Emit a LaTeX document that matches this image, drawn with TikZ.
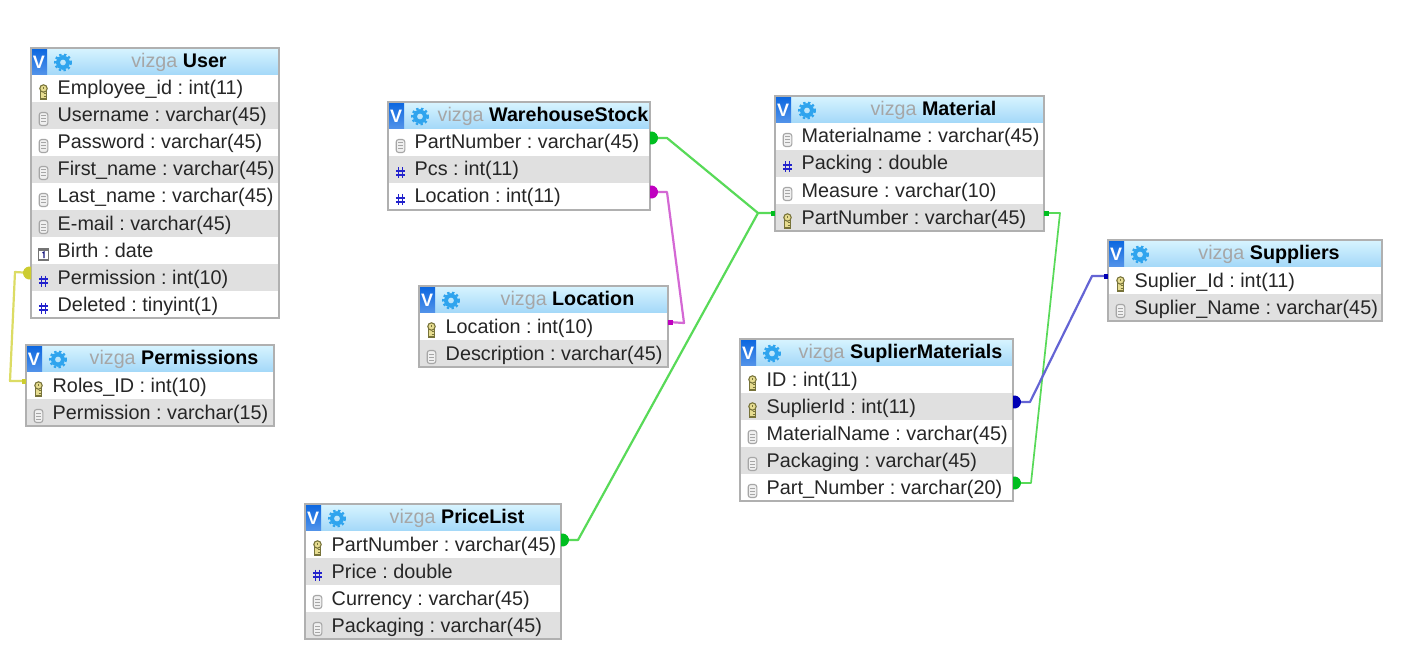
\documentclass[tikz,border=0pt]{standalone}
\usepackage{fontspec}
\setmainfont{Liberation Sans}
\definecolor{headblue}{HTML}{A3D8F8}
\definecolor{headtop}{HTML}{D8F4FF}
\definecolor{rowgray}{HTML}{E0E0E0}
\definecolor{edgegray}{HTML}{B0B0B0}
\definecolor{vblue}{HTML}{0A66E0}
\definecolor{gearblue}{HTML}{2FA4EE}
\definecolor{hashblue}{HTML}{2222CC}
\definecolor{keyfill}{HTML}{E6DC90}
\definecolor{keyline}{HTML}{77733A}
\definecolor{icongray}{HTML}{A6A6A6}
\definecolor{greenline}{HTML}{58DA58}
\definecolor{greenend}{HTML}{00BE20}
\definecolor{pinkline}{HTML}{D468D4}
\definecolor{pinkend}{HTML}{C000C0}
\definecolor{blueline}{HTML}{6464D4}
\definecolor{blueend}{HTML}{0000B4}
\definecolor{yellowline}{HTML}{DCDC64}
\definecolor{yellowend}{HTML}{CCCC30}
\tikzset{
  rowcell/.style={rectangle,inner sep=0pt,minimum height=27pt,anchor=north west},
  rowtext/.style={anchor=base west,inner sep=0pt,font=\fontsize{19.8}{24}\selectfont\frenchspacing,text=black!85},
  headtext/.style={inner sep=0pt,font=\fontsize{19.7}{24}\selectfont},
  vtext/.style={inner sep=0pt,text=white,font=\fontsize{18}{24}\selectfont\bfseries},
  link/.style={line width=2.2pt,line join=round},
  pics/ick/.style={code={
    \draw[keyline,fill=keyfill,line width=1.1pt] (-2.6,-1)--(-2.6,7)--(2.6,7)--(2.6,-1);
    \draw[keyline,fill=keyfill,line width=1.1pt] (0,-3.5) circle (3.7);
    \fill[keyline] (-0.8,-4.6) rectangle (0.8,-2.6);
    \draw[keyline,line width=1pt] (0,1.5)--(2.6,1.5) (0,4.2)--(2.6,4.2);
  }},
  pics/ict/.style={code={
    \draw[icongray,fill=black!6,line width=1.1pt,rounded corners=2.5pt] (-4.3,-6.5) rectangle (4.3,6.5);
    \foreach \ly in {-3,0,3}{\draw[icongray,line width=1pt](-2.3,\ly)--(2.3,\ly);}
  }},
  pics/icn/.style={code={
    \draw[hashblue,line width=1.5pt] (-1.8,-5.5)--(-1.8,5.5) (2,-5.5)--(2,5.5) (-4.6,-2)--(4.6,-2) (-4.6,2)--(4.6,2);
  }},
  pics/icd/.style={code={
    \draw[icongray!70!black,fill=white,line width=1.2pt] (-5,-5) rectangle (5,6);
    \fill[icongray!70!black] (-5,-5) rectangle (5,-3);
    \draw[hashblue!60!black,line width=1.2pt] (-1,-1)--(0.5,-2)--(0.5,4);
  }}
}
% name, left, top, width, number of rows, title, rows
\newcommand{\dbtable}[7]{
  \begin{scope}[shift={(#2,#3)}]
    \shade[top color=headtop,bottom color=headblue] (0,0) rectangle (#4,27);
    \shade[top color=vblue,bottom color=vblue!70] (0,0) rectangle (16,27);
    \node[vtext] (#1-v) at (8,14) {V};
    \draw[gearblue,line width=4pt] (32,14.5) circle (5.2);
    \draw[gearblue,line width=2pt,dash pattern=on 2.4pt off 2.4pt] (32,14.5) circle (8);
    \node[headtext] (#1-title) at ({(51+#4-3)/2},14.5) {\textcolor{black!35}{vizga} \textbf{#6}};
    \foreach \ic/\txt [count=\i] in {#7}{
      \ifodd\i \def\rowfill{white}\else \def\rowfill{rowgray}\fi
      \node[rowcell,fill=\rowfill,minimum width=#4pt] (#1-\i) at (0,{27*\i}) {};
      \coordinate (#1-\i-l) at (0,{27*\i+9});
      \coordinate (#1-\i-r) at (#4,{27*\i+9});
      \pic at (12.5,{27*\i+17}) {ic\ic};
      \node[rowtext] (#1-\i-t) at (26.5,{27*\i+20}) {\txt};
    }
    \draw[edgegray,line width=1.1pt] (0,0) rectangle (#4,{27*(#5+1)});
  \end{scope}
}
% many end, one end of a link
\newcommand{\manyend}[3]{\fill[#1] (#2) ++(0,-6.33) arc[start angle=-103,end angle=103,x radius=#3*6.5,y radius=6.5];}
\newcommand{\oneend}[3]{\fill[#1] (#2) ++(0,-2.5) rectangle ++(#3*4.5,5);}
\begin{document}
\begin{tikzpicture}[x=1pt,y=-1pt]
  \useasboundingbox (0,0) rectangle (1402,655);
  \fill[white] (0,0) rectangle (1402,655);
  \dbtable{user}{31}{48}{248}{9}{User}{k/Employee\_id : int(11),t/Username : varchar(45),t/Password : varchar(45),t/First\_name : varchar(45),t/Last\_name : varchar(45),t/E-mail : varchar(45),d/Birth : date,n/Permission : int(10),n/Deleted : tinyint(1)}
  \dbtable{perm}{26}{345}{248}{2}{Permissions}{k/Roles\_ID : int(10),t/Permission : varchar(15)}
  \dbtable{stock}{388}{102}{262}{3}{WarehouseStock}{t/PartNumber : varchar(45),n/Pcs : int(11),n/Location : int(11)}
  \dbtable{loc}{419}{286}{249}{2}{Location}{k/Location : int(10),t/Description : varchar(45)}
  \dbtable{mat}{775}{96}{269}{4}{Material}{t/Materialname : varchar(45),n/Packing : double,t/Measure : varchar(10),k/PartNumber : varchar(45)}
  \dbtable{smat}{740}{339}{273}{5}{SuplierMaterials}{k/ID : int(11),k/SuplierId : int(11),t/MaterialName : varchar(45),t/Packaging : varchar(45),t/Part\_Number : varchar(20)}
  \dbtable{price}{305}{504}{256}{4}{PriceList}{k/PartNumber : varchar(45),n/Price : double,t/Currency : varchar(45),t/Packaging : varchar(45)}
  \dbtable{supp}{1108}{240}{274}{2}{Suppliers}{k/Suplier\_Id : int(11),t/Suplier\_Name : varchar(45)}
  % bends of the links
  \coordinate (permA) at (15,272);
  \coordinate (permB) at (10,381);
  \coordinate (stockA) at (667,138);
  \coordinate (matA) at (758,213);
  \coordinate (stockB) at (667,192);
  \coordinate (locA) at (684,323);
  \coordinate (priceA) at (578,540);
  \coordinate (matB) at (1060,213);
  \coordinate (smatA) at (1031,483);
  \coordinate (smatB) at (1030,402);
  \coordinate (suppA) at (1092,276);
  % links
  \draw[link,yellowline] (user-8-l)--(permA)--(permB)--(perm-1-l);
  \draw[link,greenline] (stock-1-r)--(stockA)--(matA)--(mat-4-l);
  \draw[link,pinkline] (stock-3-r)--(stockB)--(locA)--(loc-1-r);
  \draw[link,greenline] (price-1-r)--(priceA)--(matA);
  \draw[link,greenline,line width=1.7pt] (mat-4-r)--(matB)--(smatA)--(smat-5-r);
  \draw[link,blueline] (smat-2-r)--(smatB)--(suppA)--(supp-1-l);
  \manyend{yellowend}{user-8-l}{-1}
  \manyend{greenend}{stock-1-r}{1}
  \manyend{pinkend}{stock-3-r}{1}
  \manyend{greenend}{price-1-r}{1}
  \manyend{greenend}{smat-5-r}{1}
  \manyend{blueend}{smat-2-r}{1}
  \oneend{greenend}{mat-4-l}{-1}
  \oneend{greenend}{mat-4-r}{1}
  \oneend{pinkend}{loc-1-r}{1}
  \oneend{blueend}{supp-1-l}{-1}
  \oneend{yellowend}{perm-1-l}{-1}
\end{tikzpicture}
\end{document}
